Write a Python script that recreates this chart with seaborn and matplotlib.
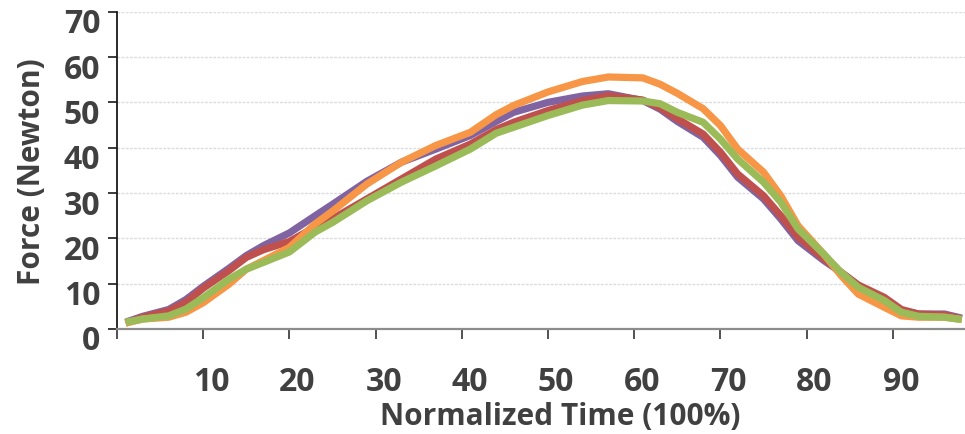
import matplotlib
matplotlib.use("Agg")
import matplotlib.pyplot as plt
import seaborn as sns
import pandas as pd
from matplotlib.transforms import ScaledTranslation

# ---- data ----
time_pct = [1, 3, 6, 8, 10, 13, 15, 17, 20, 23, 25, 29, 33, 37, 41, 44, 46, 50, 54, 57,
            61, 63, 65, 68, 70, 72, 75, 77, 79, 82, 84, 86, 89, 91, 93, 96, 98]
red = [1.3, 2.6, 4.0, 5.9, 9.0, 12.9, 15.8, 17.5, 19.3, 22.5, 24.3, 28.7, 33.1, 37.5, 40.8, 44.0,
       45.6, 48.2, 50.4, 51.5, 50.5, 48.8, 46.4, 43.0, 39.0, 34.2, 29.4, 25.0, 20.3, 15.5, 12.5,
       9.7, 7.0, 4.3, 3.3, 3.1, 2.2]
purple = [1.5, 2.8, 4.3, 6.5, 9.4, 13.4, 16.2, 18.4, 21.2, 25.0, 27.5, 32.6, 36.8, 39.7, 42.7,
          45.8, 47.8, 50.0, 51.4, 51.9, 50.4, 48.5, 45.8, 42.3, 38.3, 33.5, 28.7, 24.3, 19.5,
          15.1, 12.5, 9.6, 6.6, 4.1, 3.3, 3.3, 2.4]
orange = [1.3, 2.2, 2.6, 3.7, 5.8, 9.9, 13.2, 15.1, 18.0, 23.2, 26.0, 32.0, 36.8, 40.5, 43.4,
          47.3, 49.3, 52.3, 54.6, 55.6, 55.4, 54.0, 52.0, 48.6, 44.9, 39.7, 34.6, 29.4, 22.8,
          16.5, 11.8, 7.7, 4.8, 2.9, 2.6, 2.6, 2.1]
green = [1.5, 2.2, 2.9, 4.4, 6.9, 11.0, 13.2, 14.7, 17.0, 21.4, 23.5, 28.3, 32.4, 36.0, 39.7,
         43.2, 44.5, 47.1, 49.4, 50.4, 50.3, 49.7, 47.8, 45.6, 41.9, 37.5, 32.4, 28.0, 22.1,
         16.5, 12.5, 9.2, 6.3, 3.7, 2.8, 2.6, 2.1]

series_names = ["Series 2", "Series 1", "Series 3", "Series 4"]  # draw order: purple, red, orange, green
series_values = [purple, red, orange, green]
series_colors = ["#8064A2", "#C0504D", "#F79646", "#9BBB59"]

x_ticks = [0, 10, 20, 30, 40, 50, 60, 70, 80, 90]
x_tick_labels = ["", "10", "20", "30", "40", "50", "60", "70", "80", "90"]
y_ticks = [0, 10, 20, 30, 40, 50, 60, 70]
y_tick_labels = ["0", "10", "20", "30", "40", "50", "60", "70"]

rows = []
for name, vals in zip(series_names, series_values):
    for t, v in zip(time_pct, vals):
        rows.append({"time": t, "force": v, "series": name})
df = pd.DataFrame(rows)

# ---- style ----
sns.set_style("white")
plt.rcParams["font.family"] = ["Open Sans", "DejaVu Sans"]
text_color = "#404040"

fig = plt.figure(figsize=(9.65, 4.35), dpi=100)
ax = fig.add_axes([117 / 965, 1 - 330 / 435, 1 - 117 / 965, (330 - 12.7) / 435])

ax.yaxis.grid(True, color="#dcdcdc", linestyle=(0, (2, 1)), linewidth=1.0)
ax.xaxis.grid(False)
ax.set_axisbelow(True)

sns.lineplot(data=df, x="time", y="force", hue="series", hue_order=series_names,
             palette=dict(zip(series_names, series_colors)), estimator=None,
             linewidth=5.2, legend=False, ax=ax, sort=False)
for ln in ax.lines:
    ln.set_solid_capstyle("butt")
    ln.set_solid_joinstyle("round")

ax.set_xlim(0, (965 - 117) / 8.62)
ax.set_ylim(0, 70)

ax.set_xticks(x_ticks)
ax.set_xticklabels(x_tick_labels)
ax.set_yticks(y_ticks)
ax.set_yticklabels(y_tick_labels)

for s in ["top", "right"]:
    ax.spines[s].set_visible(False)
ax.spines["left"].set_color("#1a1a1a")
ax.spines["left"].set_linewidth(1.3)
ax.spines["bottom"].set_color("#8c8c8c")
ax.spines["bottom"].set_linewidth(1.6)

ax.tick_params(axis="y", direction="out", length=6.5, width=1.2, color="#1a1a1a",
               pad=5.5, labelsize=23, labelcolor=text_color, left=True)
ax.tick_params(axis="x", direction="out", length=7, width=1.2, color="#333333",
               pad=19, labelsize=23, labelcolor=text_color, bottom=True)
for lab in ax.get_xticklabels() + ax.get_yticklabels():
    lab.set_fontweight("bold")

# small offsets of tick labels as in the reference
dx = ScaledTranslation(8 / 100, 0, fig.dpi_scale_trans)
dy = ScaledTranslation(0, -8 / 100, fig.dpi_scale_trans)
for lab in ax.get_xticklabels():
    lab.set_transform(lab.get_transform() + dx)
for lab in ax.get_yticklabels():
    lab.set_transform(lab.get_transform() + dy)

ax.set_xlabel("Normalized Time (100%)", fontsize=21.5, fontweight="bold", color=text_color,
              va="center")
ax.xaxis.set_label_coords((560 - 117) / 848, (330 - 417) / 317)
ax.set_ylabel("Force (Newton)", fontsize=21.5, fontweight="bold", color=text_color, va="center")
ax.yaxis.set_label_coords((32 - 117) / 848, 0.5)

fig.savefig("out.png", dpi=100)
